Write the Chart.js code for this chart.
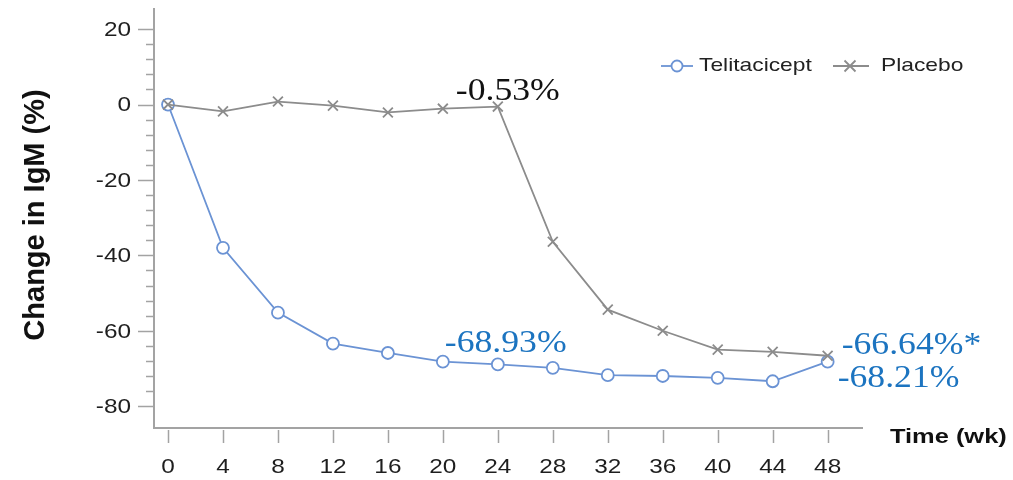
<!DOCTYPE html>
<html>
<head>
<meta charset="utf-8">
<script src="https://cdn.jsdelivr.net/npm/chart.js"></script>
<style>
  html, body { margin: 0; padding: 0; background: #fff; }
  #wrap { width: 1013px; height: 480px; }
</style>
</head>
<body>
<div id="wrap"><canvas id="igmChart" width="1013" height="480"></canvas></div>
<script>
// IgM change from baseline by week
const weeks = [0, 4, 8, 12, 16, 20, 24, 28, 32, 36, 40, 44, 48];
const telitacicept = [0, -38.0, -55.2, -63.4, -65.9, -68.2, -68.93, -69.85, -71.8, -72.0, -72.5, -73.4, -68.21];
const placebo = [0, -1.8, 0.8, -0.3, -2.1, -1.1, -0.53, -36.4, -54.4, -60.0, -65.0, -65.6, -66.64];
const yTickValues = [-80, -60, -40, -20, 0, 20];
const yMinorStep = 4;
const xTickValues = weeks;

// callouts: [series, week, text]
const callouts = [
  ['placebo', 24, '-0.53%'],
  ['telitacicept', 24, '-68.93%'],
  ['placebo', 48, '-66.64%*'],
  ['telitacicept', 48, '-68.21%']
];

const BLUE = '#6b93d4';
const GREY = '#8c8c8c';
const AXIS = '#a3a3a3';
const LABEL_BLUE = '#1c74c0';
const SANS = '"Liberation Sans", Arial, sans-serif';
const SERIF = '"Liberation Serif", "Times New Roman", serif';

function toPoints(values) {
  return weeks.map((w, i) => ({ x: w, y: values[i] }));
}

// text with a horizontal stretch
function stretchText(ctx, str, x, y, font, color, sx, align, baseline) {
  ctx.save();
  ctx.translate(x, y);
  ctx.scale(sx, 1);
  ctx.font = font;
  ctx.fillStyle = color;
  ctx.textAlign = align || 'left';
  ctx.textBaseline = baseline || 'alphabetic';
  ctx.fillText(str, 0, 0);
  ctx.restore();
}

function drawCross(ctx, cx, cy, r, color) {
  ctx.save();
  ctx.strokeStyle = color;
  ctx.lineWidth = 1.8;
  ctx.beginPath();
  ctx.moveTo(cx - r, cy - r); ctx.lineTo(cx + r, cy + r);
  ctx.moveTo(cx + r, cy - r); ctx.lineTo(cx - r, cy + r);
  ctx.stroke();
  ctx.restore();
}

const decorations = {
  id: 'decorations',
  afterDraw(chart) {
    const ctx = chart.ctx;
    const xs = chart.scales.x;
    const ys = chart.scales.y;

    // y tick marks (major + minor)
    ctx.save();
    ctx.strokeStyle = AXIS;
    ctx.lineWidth = 1.5;
    for (let v = -80; v <= 20; v += yMinorStep) {
      const py = Math.round(ys.getPixelForValue(v)) + 0.5;
      const major = v % 20 === 0;
      ctx.beginPath();
      ctx.moveTo(major ? 138 : 146, py);
      ctx.lineTo(ys.right, py);
      ctx.stroke();
    }
    // x tick marks
    xTickValues.forEach(w => {
      const px = Math.round(xs.getPixelForValue(w)) + 0.5;
      ctx.beginPath();
      ctx.moveTo(px, xs.top + 2);
      ctx.lineTo(px, xs.top + 15);
      ctx.stroke();
    });
    ctx.restore();

    yTickValues.forEach(v => {
      stretchText(ctx, String(v), 131, ys.getPixelForValue(v) + 1, '21px ' + SANS, '#1e1e1e', 1.16, 'right', 'middle');
    });
    xTickValues.forEach(w => {
      stretchText(ctx, String(w), xs.getPixelForValue(w), 467, '21px ' + SANS, '#1e1e1e', 1.16, 'center', 'middle');
    });

    // axis titles
    ctx.save();
    ctx.translate(43.5, 215);
    ctx.rotate(-Math.PI / 2);
    ctx.font = 'bold 29px ' + SANS;
    ctx.fillStyle = '#111';
    ctx.textAlign = 'center';
    ctx.textBaseline = 'alphabetic';
    ctx.fillText('Change in IgM (%)', 0, 0);
    ctx.restore();
    stretchText(ctx, 'Time (wk)', 890, 443, 'bold 21px ' + SANS, '#111', 1.21);

    // legend
    const ly = 66;
    ctx.save();
    ctx.strokeStyle = BLUE;
    ctx.lineWidth = 1.8;
    ctx.beginPath(); ctx.moveTo(661, ly); ctx.lineTo(693, ly); ctx.stroke();
    ctx.fillStyle = '#fff';
    ctx.beginPath(); ctx.arc(677, ly, 5.5, 0, Math.PI * 2); ctx.fill(); ctx.stroke();
    ctx.strokeStyle = GREY;
    ctx.beginPath(); ctx.moveTo(833, ly); ctx.lineTo(869, ly); ctx.stroke();
    ctx.restore();
    drawCross(ctx, 850, ly, 5.5, GREY);
    stretchText(ctx, 'Telitacicept', 699, 71, '19px ' + SANS, '#222', 1.2);
    stretchText(ctx, 'Placebo', 881, 71, '19px ' + SANS, '#222', 1.2);

    // value callouts anchored to their points
    const offsets = {
      'placebo-24': [-42, -7, '#111'],
      'telitacicept-24': [-53, -12, LABEL_BLUE],
      'placebo-48': [14, -2, LABEL_BLUE],
      'telitacicept-48': [10, 25, LABEL_BLUE]
    };
    callouts.forEach(([series, week, text]) => {
      const vals = series === 'placebo' ? placebo : telitacicept;
      const v = vals[weeks.indexOf(week)];
      const [dx, dy, color] = offsets[series + '-' + week];
      stretchText(ctx, text, xs.getPixelForValue(week) + dx, ys.getPixelForValue(v) + dy,
        '31px ' + SERIF, color, 1.15);
    });
  }
};

new Chart(document.getElementById('igmChart'), {
  type: 'line',
  data: {
    datasets: [
      {
        label: 'Telitacicept',
        data: toPoints(telitacicept),
        borderColor: BLUE,
        borderWidth: 1.8,
        pointStyle: 'circle',
        pointRadius: 6,
        pointBorderWidth: 1.8,
        pointBackgroundColor: '#fff',
        pointBorderColor: BLUE,
        order: 1
      },
      {
        label: 'Placebo',
        data: toPoints(placebo),
        borderColor: GREY,
        borderWidth: 1.8,
        pointStyle: 'crossRot',
        pointRadius: 7,
        pointBorderWidth: 1.8,
        pointBorderColor: GREY,
        order: 0
      }
    ]
  },
  options: {
    responsive: false,
    animation: false,
    devicePixelRatio: 1,
    layout: { padding: { left: 0, top: 8, right: 151, bottom: 0 } },
    plugins: { legend: { display: false }, tooltip: { enabled: false } },
    scales: {
      x: {
        type: 'linear',
        min: -1.02,
        max: 50.5,
        grid: { display: false },
        border: { display: true, color: AXIS, width: 2 },
        ticks: { display: false },
        afterFit(scale) { scale.height = 52; }
      },
      y: {
        min: -85.8,
        max: 25.4,
        grid: { display: false },
        border: { display: true, color: AXIS, width: 2 },
        ticks: { display: false },
        afterFit(scale) { scale.width = 154; }
      }
    }
  },
  plugins: [decorations]
});
</script>
</body>
</html>
